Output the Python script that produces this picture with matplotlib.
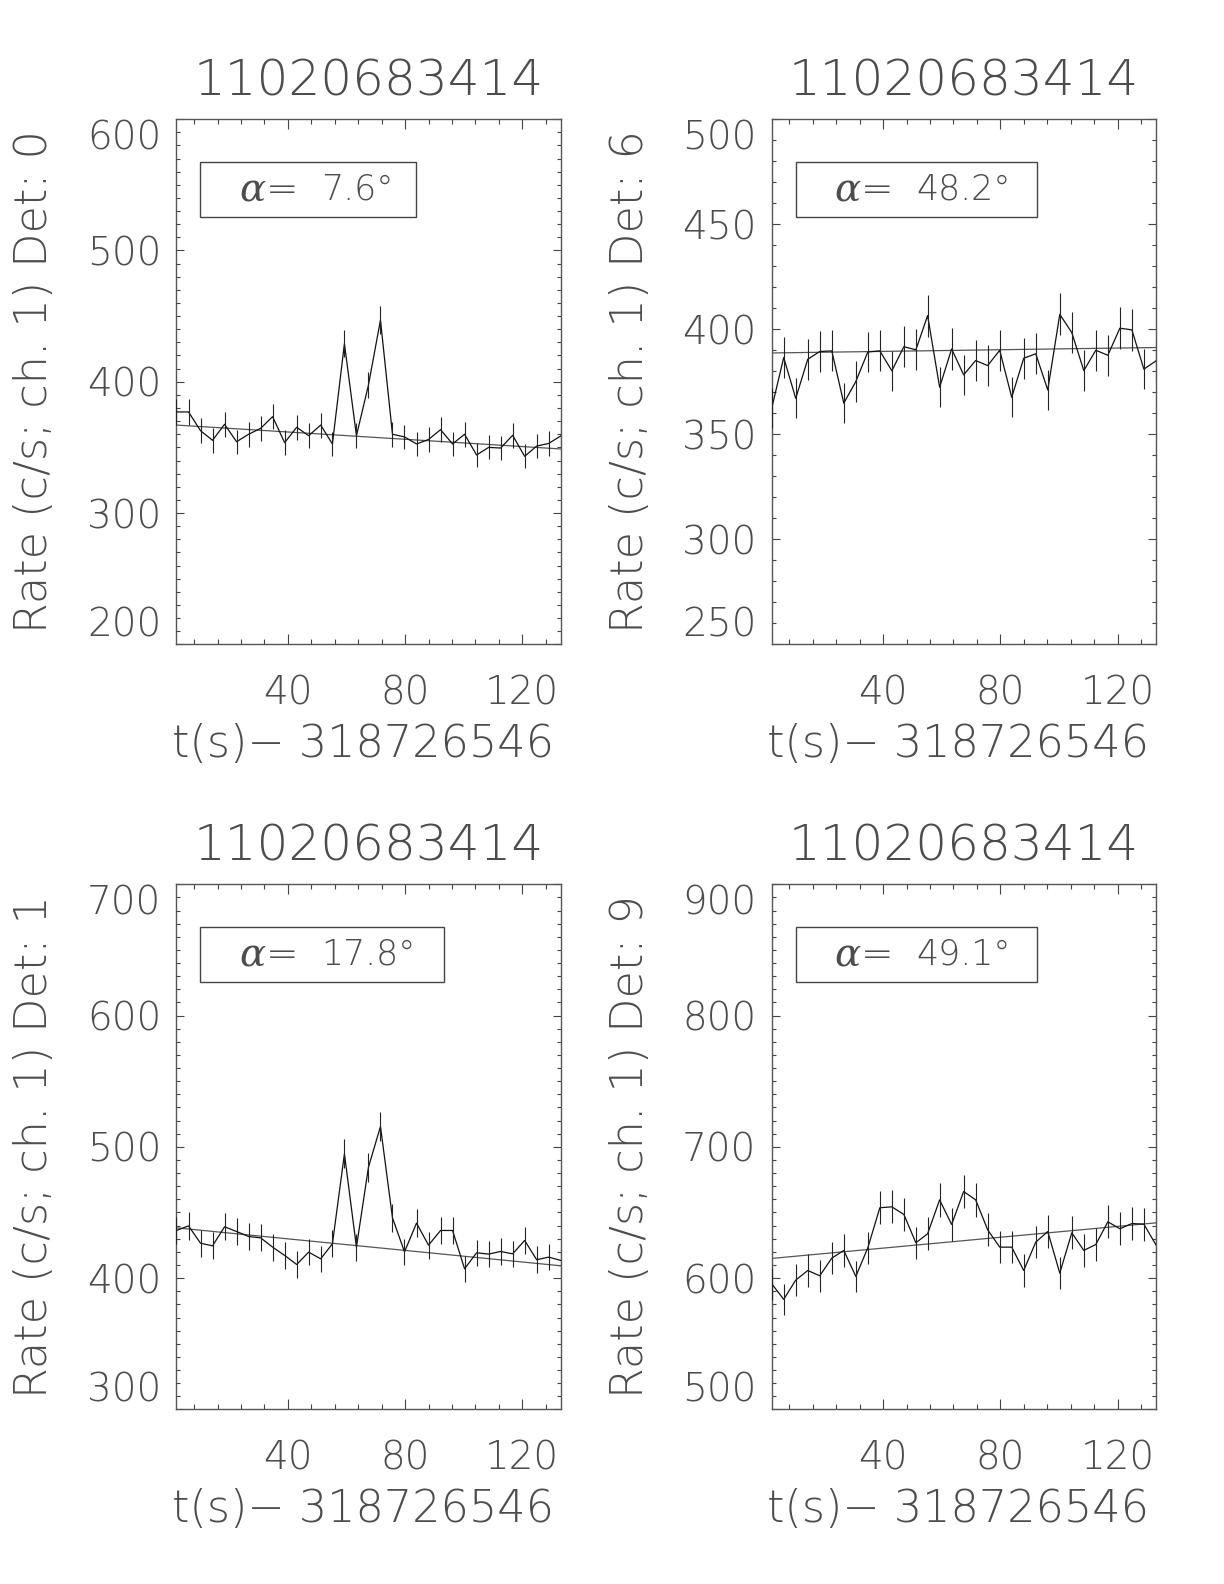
import numpy as np
import matplotlib
matplotlib.use("Agg")
import matplotlib.pyplot as plt
from matplotlib.patches import Rectangle
from matplotlib.ticker import MultipleLocator

# ---------------- data ----------------
time_s = [2.0, 6.1, 10.2, 14.3, 18.4, 22.5, 26.6, 30.7, 34.8, 38.9, 43.0,
          47.1, 51.2, 55.2, 59.3, 63.4, 67.5, 71.6, 75.7, 79.8, 83.9, 88.0,
          92.1, 96.2, 100.3, 104.4, 108.5, 112.6, 116.7, 120.8, 124.9, 129.0,
          133.1]

title_id = "11020683414"
time_offset = "318726546"

det_ids = [0, 6, 1, 9]
alphas = ["7.6", "48.2", "17.8", "49.1"]

rate_det0 = [377, 377, 362.7, 355.4, 367.6, 354.3, 360, 364.5, 373.4, 353.6,
             365.3, 358.9, 367, 352.6, 429, 358.9, 397.5, 447, 360, 358,
             352.6, 356, 363.5, 352.6, 360, 344.2, 350, 349.5, 359.2, 343.2,
             351, 353, 358.7]
err_det0 = [9.6, 9.6, 9.4, 9.3, 9.5, 9.3, 9.4, 9.4, 9.5, 9.3, 9.4, 9.4, 9.5,
            9.3, 10.2, 9.4, 9.9, 10.4, 9.4, 9.4, 9.3, 9.3, 9.4, 9.3, 9.4, 9.2,
            9.2, 9.2, 9.4, 9.2, 9.3, 9.3, 9.4]

rate_det6 = [362.4, 386.5, 367.1, 385.7, 389.4, 389.7, 364.8, 375.1, 389.2,
             389.7, 380.2, 391.7, 390.2, 406.5, 372.4, 390.6, 378.3, 385.1,
             382.7, 390.0, 367.6, 386.2, 388.3, 371.1, 407.1, 398.4, 380.3,
             390.0, 387.6, 400.5, 399.7, 381.0, 384.9]
err_det6 = [9.4, 9.7, 9.5, 9.7, 9.8, 9.8, 9.4, 9.6, 9.7, 9.8, 9.6, 9.8, 9.8,
            10.0, 9.5, 9.8, 9.6, 9.7, 9.7, 9.8, 9.5, 9.7, 9.7, 9.5, 10.0, 9.9,
            9.6, 9.8, 9.7, 9.9, 9.9, 9.6, 9.7]

rate_det1 = [436.3, 439.8, 426.6, 424.6, 439.1, 435.5, 431.7, 430.7, 423.6,
             417.3, 410.4, 419.8, 414.7, 426.1, 494.7, 423.6, 484.5, 515.5,
             445.9, 420.0, 441.9, 425.1, 436.3, 436.3, 407.1, 419.3, 418.3,
             420.3, 418.5, 428.7, 414.0, 416.0, 413.5]
err_det1 = [10.3, 10.4, 10.2, 10.2, 10.4, 10.3, 10.3, 10.3, 10.2, 10.1, 10.0,
            10.1, 10.1, 10.2, 11.0, 10.2, 10.9, 11.2, 10.4, 10.1, 10.4, 10.2,
            10.3, 10.3, 10.0, 10.1, 10.1, 10.1, 10.1, 10.2, 10.1, 10.1, 10.0]

rate_det9 = [595.7, 583.8, 598.5, 605.8, 601.8, 615.2, 621.1, 601.3, 623.1,
             653.6, 654.3, 648.5, 626.9, 633.8, 659.6, 640.9, 666.0, 659.6,
             636.8, 623.6, 623.6, 605.8, 627.4, 635.5, 603.8, 634.5, 621.1,
             625.6, 642.9, 637.6, 641.6, 641.1, 625.4]
err_det9 = [12.1, 11.9, 12.1, 12.2, 12.1, 12.3, 12.3, 12.1, 12.3, 12.6, 12.6,
            12.6, 12.4, 12.4, 12.7, 12.5, 12.8, 12.7, 12.5, 12.3, 12.3, 12.2,
            12.4, 12.5, 12.1, 12.5, 12.3, 12.4, 12.5, 12.5, 12.5, 12.5, 12.4]

# background fit: value at first and last time bin
fit_det0 = [367.0, 348.8]
fit_det6 = [388.7, 391.3]
fit_det1 = [438.3, 409.4]
fit_det9 = [615.0, 642.1]

y_ranges = [(200, 600), (250, 500), (300, 700), (500, 900)]
y_major = [100, 50, 100, 100]
x_ticks = [40, 80, 120]

rates = [rate_det0, rate_det6, rate_det1, rate_det9]
errs = [err_det0, err_det6, err_det1, err_det9]
fits = [fit_det0, fit_det6, fit_det1, fit_det9]

# ---------------- layout ----------------
W, H = 1224, 1584
FONT = ["DejaVu Sans"]
TXT = "#4c4c4c"
plt.rcParams["font.family"] = FONT
plt.rcParams["font.weight"] = "light"
plt.rcParams["mathtext.fontset"] = "custom"
plt.rcParams["mathtext.it"] = "DejaVu Serif:italic"
plt.rcParams["mathtext.rm"] = "DejaVu Sans"

fig = plt.figure(figsize=(W / 100, H / 100), dpi=100)
fig.patch.set_facecolor("white")

ax_w, ax_h = 384.2, 525.1
lefts = [176.5, 771.7, 176.5, 771.7]
tops = [119.2, 119.2, 884.3, 884.3]
box_right = [0.623, 0.690, 0.697, 0.690]

for k in range(4):
    l, t = lefts[k], tops[k]
    ax = fig.add_axes([l / W, 1 - (t + ax_h) / H, ax_w / W, ax_h / H])
    tt = np.array(time_s)
    r = np.array(rates[k])
    e = np.array(errs[k])
    ax.plot(tt, r, color="#111111", lw=0.9, zorder=3)
    ax.vlines(tt, r - e, r + e, color="#222222", lw=0.8, zorder=3)
    ax.plot([tt[0], tt[-1]], fits[k], color="#555555", lw=0.9, zorder=2)

    ax.set_xlim(tt[0], tt[-1])
    ax.set_ylim(*y_ranges[k])
    ax.set_xticks(x_ticks)
    ax.xaxis.set_minor_locator(MultipleLocator(8))
    ax.set_yticks(np.arange(y_ranges[k][0], y_ranges[k][1] + 1, y_major[k]))
    ax.yaxis.set_minor_locator(MultipleLocator(10))

    ax.tick_params(axis="both", which="both", direction="in", top=True,
                   right=True, colors="#444444", labelcolor=TXT, width=0.8)
    ax.tick_params(axis="x", which="major", length=7.2, pad=22, labelsize=28)
    ax.tick_params(axis="x", which="minor", length=3.6)
    ax.tick_params(axis="y", which="major", length=6, pad=11, labelsize=28)
    ax.tick_params(axis="y", which="minor", length=3)
    for sp in ax.spines.values():
        sp.set_color("#555555")
        sp.set_linewidth(1.0)

    ylabels = ax.get_yticklabels()
    ylabels[0].set_va("bottom")
    ylabels[-1].set_va("top")

    # alpha box
    ax.add_patch(Rectangle((0.062, 0.814), box_right[k] - 0.062, 0.105,
                           transform=ax.transAxes, fill=False,
                           edgecolor="#444444", lw=1.0, zorder=4))
    ax.text(0.162, 0.867, r"$\alpha$=", transform=ax.transAxes, ha="left",
            va="center", fontsize=28, color=TXT, zorder=5)
    ax.text(0.377, 0.867, alphas[k] + "°", transform=ax.transAxes,
            ha="left", va="center", fontsize=25, color=TXT, zorder=5)

    cx = (l + ax_w / 2) / W
    fig.text(cx, 1 - (t - 38) / H, title_id, ha="center", va="center",
             fontsize=36, color=TXT)
    fig.text(cx - 6 / W, 1 - (t + ax_h + 100) / H, "t(s)\u2212 " + time_offset,
             ha="center", va="center", fontsize=32, color=TXT)
    fig.text((l - 141.5) / W, 1 - (t + ax_h / 2) / H,
             "Rate (c/s; ch. 1) Det: %d" % det_ids[k], rotation=90,
             ha="center", va="center", fontsize=32, color=TXT)

fig.savefig("out.png", dpi=100, facecolor="white")
